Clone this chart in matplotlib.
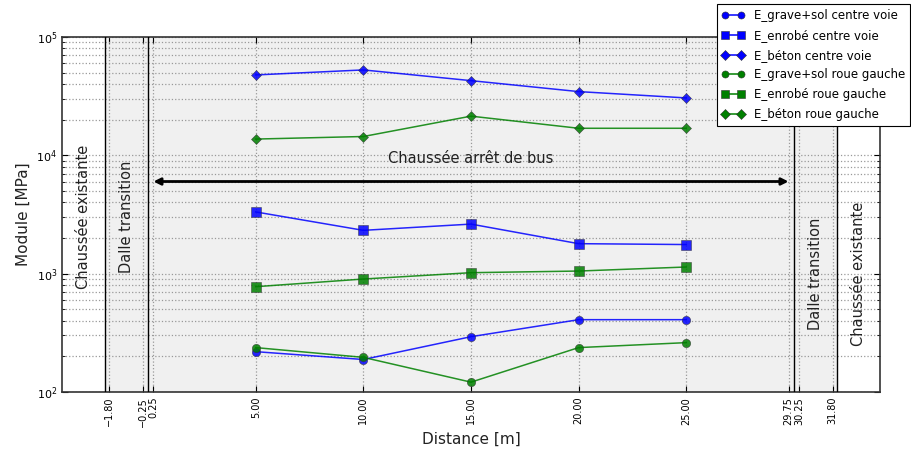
import matplotlib
matplotlib.use("Agg")
import matplotlib.pyplot as plt

# Measurement positions along the bus stop pavement [m]
distance = [5.0, 10.0, 15.0, 20.0, 25.0]

# Back-calculated moduli [MPa]
e_grave_centre = [219, 188, 293, 408, 408]
e_enrobe_centre = [3320, 2320, 2620, 1790, 1760]
e_beton_centre = [47700, 52600, 42700, 34500, 30500]
e_grave_roue = [237, 196, 121, 237, 261]
e_enrobe_roue = [775, 900, 1018, 1051, 1137]
e_beton_roue = [13700, 14400, 21400, 16900, 16900]

series_labels = [
    "E_grave+sol centre voie",
    "E_enrobé centre voie",
    "E_béton centre voie",
    "E_grave+sol roue gauche",
    "E_enrobé roue gauche",
    "E_béton roue gauche",
]

# Zone boundaries and tick positions [m]
zone_bounds = [-2.0, 0.0, 30.0, 32.0]
x_ticks = [-1.80, -0.25, 0.25, 5.00, 10.00, 15.00, 20.00, 25.00, 29.75, 30.25, 31.80]
bus_stop_span = (0.25, 29.75)

fig = plt.figure(figsize=(9.11, 4.5), dpi=100)
ax = fig.add_axes([0.068, 0.129, 0.898, 0.789])

ax.set_yscale("log")
ax.set_xlim(-4, 34)
ax.set_ylim(1e2, 1e5)

# shaded slab zone
ax.axvspan(zone_bounds[0], zone_bounds[-1], facecolor="#f0f0f0", edgecolor="none", zorder=0)
for xb in zone_bounds:
    ax.axvline(xb, color="black", lw=1.0, zorder=3)

series = [e_grave_centre, e_enrobe_centre, e_beton_centre,
          e_grave_roue, e_enrobe_roue, e_beton_roue]
colors = ["#0000ff"] * 3 + ["#008000"] * 3
markers = ["o", "s", "D"] * 2
sizes = [6, 6.5, 5.5] * 2
for vals, lab, c, m, ms in zip(series, series_labels, colors, markers, sizes):
    ax.plot(distance, vals, color=c, marker=m, ms=ms, lw=1.1, alpha=0.85,
            mec="#333333", mew=0.4, mfc=c, label=lab, zorder=4)

# bus stop extent
ax.annotate("", xy=(bus_stop_span[1], 6000), xytext=(bus_stop_span[0], 6000),
            arrowprops=dict(arrowstyle="<|-|>", color="black", lw=2,
                            mutation_scale=10, shrinkA=0, shrinkB=0), zorder=5)
ax.text(15, 9300, "Chaussée arrêt de bus", ha="center", va="center", fontsize=10.5, color="#222222")

ax.text(-3.0, 3000, "Chaussée existante", rotation=90, ha="center", va="center", fontsize=10.5, color="#222222")
ax.text(-1.0, 3000, "Dalle transition", rotation=90, ha="center", va="center", fontsize=10.5, color="#222222")
ax.text(31.0, 1000, "Dalle transition", rotation=90, ha="center", va="center", fontsize=10.5, color="#222222")
ax.text(33.0, 1000, "Chaussée existante", rotation=90, ha="center", va="center", fontsize=10.5, color="#222222")

ax.set_xticks(x_ticks)
ax.set_xticklabels([f"{t:.2f}".replace("-", "\u2212") for t in x_ticks], rotation=90, fontsize=7)
ax.tick_params(axis="y", which="major", labelsize=8)
ax.tick_params(axis="both", which="both", direction="in", top=True, right=True)
ax.tick_params(axis="both", which="major", length=4)
ax.tick_params(axis="y", which="minor", length=2)

ax.grid(True, which="major", axis="both", linestyle=":", color="#999999", lw=0.9, zorder=1)
ax.grid(True, which="minor", axis="y", linestyle=":", color="#999999", lw=0.9, zorder=1)

for sp in ax.spines.values():
    sp.set_color("#333333")
    sp.set_linewidth(1.2)

ax.set_xlabel("Distance [m]", fontsize=11, color="#222222")
ax.set_ylabel("Module [MPa]", fontsize=11, color="#222222")

leg = ax.legend(loc="upper right", bbox_to_anchor=(1.037, 1.092), fontsize=8.5,
                numpoints=2, fancybox=False, framealpha=1.0, edgecolor="black",
                handlelength=2.0, labelspacing=0.58, borderaxespad=0.0,
                markerscale=0.85)
leg.get_frame().set_linewidth(0.8)
for h in leg.legend_handles:
    h.set_alpha(1.0)

fig.savefig("out.png", dpi=100)
